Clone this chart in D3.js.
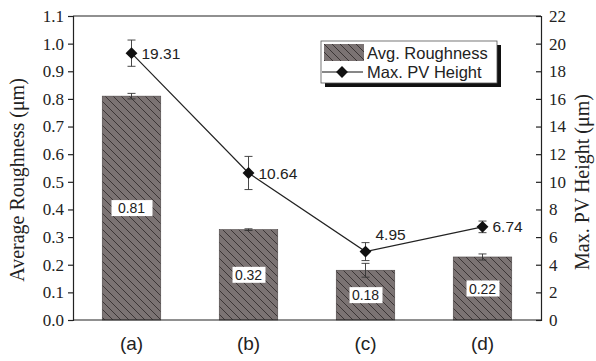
<!DOCTYPE html>
<html>
<head>
<meta charset="utf-8">
<script src="https://cdn.jsdelivr.net/npm/d3@7"></script>
<style>
  body { margin: 0; background: #fff; }
  svg { display: block; }
  .axis path, .axis line { stroke: #222; stroke-width: 1.2px; }
</style>
</head>
<body>
<div id="chart-area"></div>
<script>
// categories and values
const categories = ["(a)", "(b)", "(c)", "(d)"];
const roughness = [0.81, 0.327, 0.18, 0.228];
const roughnessErr = [0.01, 0.003, 0.025, 0.011];
const roughnessLabels = ["0.81", "0.32", "0.18", "0.22"];
const pvHeight = [19.31, 10.64, 4.95, 6.74];
const pvHeightErr = [0.95, 1.2, 0.65, 0.42];
const leftTicks = [0, 0.1, 0.2, 0.3, 0.4, 0.5, 0.6, 0.7, 0.8, 0.9, 1.0, 1.1];
const rightTicks = [0, 2, 4, 6, 8, 10, 12, 14, 16, 18, 20, 22];

const MARGIN = {LEFT: 73, RIGHT: 55, TOP: 16, BOTTOM: 41};
const W = 596, H = 361;
const WIDTH = W - MARGIN.LEFT - MARGIN.RIGHT;
const HEIGHT = H - MARGIN.TOP - MARGIN.BOTTOM;
const SERIF = "'Liberation Serif', 'Times New Roman', serif";
const SANS = "'Liberation Sans', Arial, sans-serif";

const svg = d3.select("#chart-area").append("svg")
    .attr("width", W)
    .attr("height", H);

// hatch pattern for the bars
const defs = svg.append("defs");
const pat = defs.append("pattern")
    .attr("id", "hatch")
    .attr("patternUnits", "userSpaceOnUse")
    .attr("width", 8)
    .attr("height", 8);
pat.append("rect").attr("width", 8).attr("height", 8).attr("fill", "#7b7373");
pat.append("path")
    .attr("d", "M-2,-2 L10,10 M-2,6 L2,10 M6,-2 L10,2")
    .attr("stroke", "#3b3535")
    .attr("stroke-width", 1);

const graph = svg.append("g")
    .attr("transform", `translate(${MARGIN.LEFT}, ${MARGIN.TOP})`);

const xScale = d3.scaleBand()
    .domain(categories)
    .range([0, WIDTH])
    .paddingInner(0.5)
    .paddingOuter(0.25);

const yScale = d3.scaleLinear().domain([0, 1.1]).range([HEIGHT, 0]);
const y2Scale = d3.scaleLinear().domain([0, 22]).range([HEIGHT, 0]);

// frame top line
graph.append("line")
    .attr("x1", 0).attr("x2", WIDTH)
    .attr("y1", 0).attr("y2", 0)
    .attr("stroke", "#222").attr("stroke-width", 1.2);

// bars
const barData = categories.map((c, i) => ({c, v: roughness[i], e: roughnessErr[i], lab: roughnessLabels[i]}));
const bx = d => xScale(d.c) + xScale.bandwidth() / 2;

graph.selectAll(".bar").data(barData).enter().append("rect")
    .attr("class", "bar")
    .attr("x", d => xScale(d.c))
    .attr("y", d => yScale(d.v))
    .attr("width", xScale.bandwidth())
    .attr("height", d => HEIGHT - yScale(d.v))
    .attr("fill", "url(#hatch)")
    .attr("stroke", "#4a4444")
    .attr("stroke-width", 0.6);

// bar error bars
const barErr = graph.selectAll(".bar-err").data(barData).enter().append("g")
    .attr("class", "bar-err")
    .attr("stroke", "#333")
    .attr("stroke-width", 0.9);
barErr.append("line")
    .attr("x1", bx).attr("x2", bx)
    .attr("y1", d => yScale(d.v - d.e))
    .attr("y2", d => yScale(d.v + d.e));
barErr.append("line")
    .attr("x1", d => bx(d) - 4).attr("x2", d => bx(d) + 4)
    .attr("y1", d => yScale(d.v + d.e)).attr("y2", d => yScale(d.v + d.e));
barErr.append("line")
    .attr("x1", d => bx(d) - 4).attr("x2", d => bx(d) + 4)
    .attr("y1", d => yScale(d.v - d.e)).attr("y2", d => yScale(d.v - d.e));

// value boxes in the middle of each bar
const boxes = graph.selectAll(".val").data(barData).enter().append("g")
    .attr("class", "val")
    .attr("transform", d => `translate(${bx(d)}, ${yScale(d.v / 2)})`);
boxes.append("rect")
    .attr("x", d => d.lab === "0.81" ? -20 : -16)
    .attr("y", -8)
    .attr("width", d => d.lab === "0.81" ? 41 : 33)
    .attr("height", 16)
    .attr("fill", "#fff");
boxes.append("text")
    .attr("text-anchor", "middle")
    .attr("dy", "0.36em")
    .style("font-family", SANS)
    .style("font-size", "14px")
    .attr("fill", "#222")
    .text(d => d.lab);

// PV height line
const pts = categories.map((c, i) => ({c, v: pvHeight[i], e: pvHeightErr[i]}));

const line = d3.line().x(bx).y(d => y2Scale(d.v));
graph.append("path")
    .attr("d", line(pts))
    .attr("fill", "none")
    .attr("stroke", "#222")
    .attr("stroke-width", 1.2);

const ptErr = graph.selectAll(".pt-err").data(pts).enter().append("g")
    .attr("stroke", "#333")
    .attr("stroke-width", 0.9);
ptErr.append("line")
    .attr("x1", bx).attr("x2", bx)
    .attr("y1", d => y2Scale(d.v - d.e))
    .attr("y2", d => y2Scale(d.v + d.e));
ptErr.append("line")
    .attr("x1", d => bx(d) - 4).attr("x2", d => bx(d) + 4)
    .attr("y1", d => y2Scale(d.v + d.e)).attr("y2", d => y2Scale(d.v + d.e));
ptErr.append("line")
    .attr("x1", d => bx(d) - 4).attr("x2", d => bx(d) + 4)
    .attr("y1", d => y2Scale(d.v - d.e)).attr("y2", d => y2Scale(d.v - d.e));

const diamond = d3.symbol().type(d3.symbolDiamond2).size(90);
graph.selectAll(".pt").data(pts).enter().append("path")
    .attr("d", diamond)
    .attr("transform", d => `translate(${bx(d)}, ${y2Scale(d.v)})`)
    .attr("fill", "#111");

graph.selectAll(".pt-lab").data(pts).enter().append("text")
    .attr("x", d => bx(d) + 10)
    .attr("y", d => y2Scale(d.v) - (d.c === "(c)" ? 17 : 0))
    .attr("dy", "0.36em")
    .style("font-family", SANS)
    .style("font-size", "15.5px")
    .attr("fill", "#222")
    .text(d => d.v.toFixed(2));

// axes
const xAxis = graph.append("g").attr("class", "x axis")
    .attr("transform", `translate(0, ${HEIGHT})`)
    .call(d3.axisBottom(xScale).tickSize(0).tickPadding(17));
xAxis.select(".domain").attr("d", `M0,0H${WIDTH}`);
xAxis.selectAll("text")
    .style("font-family", SANS)
    .style("font-size", "19px")
    .attr("fill", "#222");

const yAxis = graph.append("g").attr("class", "y axis")
    .call(d3.axisLeft(yScale).tickValues(leftTicks).tickFormat(d3.format(".1f")).tickSizeOuter(0).tickSize(5).tickPadding(4));
yAxis.selectAll("text")
    .style("font-family", SERIF)
    .style("font-size", "17px")
    .attr("fill", "#222");

const y2Axis = graph.append("g").attr("class", "y2 axis")
    .attr("transform", `translate(${WIDTH}, 0)`)
    .call(d3.axisRight(y2Scale).tickValues(rightTicks).tickSizeOuter(0).tickSize(-5).tickPadding(8));
y2Axis.selectAll("text")
    .style("font-family", SERIF)
    .style("font-size", "17px")
    .attr("fill", "#222");

// axis titles
svg.append("text")
    .attr("transform", `translate(24, ${MARGIN.TOP + HEIGHT / 2 + 12}) rotate(-90)`)
    .attr("text-anchor", "middle")
    .style("font-family", SERIF)
    .style("font-size", "20px")
    .attr("fill", "#222")
    .text("Average Roughness (\u03bcm)");

svg.append("text")
    .attr("transform", `translate(589, ${MARGIN.TOP + HEIGHT / 2 + 14}) rotate(-90)`)
    .attr("text-anchor", "middle")
    .style("font-family", SERIF)
    .style("font-size", "20px")
    .attr("fill", "#222")
    .text("Max. PV Height (\u03bcm)");

// legend
const legend = svg.append("g").attr("transform", "translate(321, 41)");
legend.append("rect")
    .attr("x", 4).attr("y", 4).attr("width", 176).attr("height", 42)
    .attr("fill", "#111");
legend.append("rect")
    .attr("width", 176).attr("height", 42)
    .attr("fill", "#fff").attr("stroke", "#555").attr("stroke-width", 0.8);
legend.append("rect")
    .attr("x", 3).attr("y", 3).attr("width", 40).attr("height", 17)
    .attr("fill", "url(#hatch)");
legend.append("line")
    .attr("x1", 1).attr("x2", 42).attr("y1", 31).attr("y2", 31)
    .attr("stroke", "#111").attr("stroke-width", 1.2);
legend.append("path")
    .attr("d", diamond)
    .attr("transform", "translate(21, 31)")
    .attr("fill", "#111");
legend.selectAll(".leg-text").data(["Avg. Roughness", "Max. PV Height"]).enter().append("text")
    .attr("x", 46)
    .attr("y", (d, i) => i === 0 ? 12 : 31)
    .attr("dy", "0.36em")
    .style("font-family", SANS)
    .style("font-size", "16.5px")
    .attr("fill", "#222")
    .text(d => d);
</script>
</body>
</html>
